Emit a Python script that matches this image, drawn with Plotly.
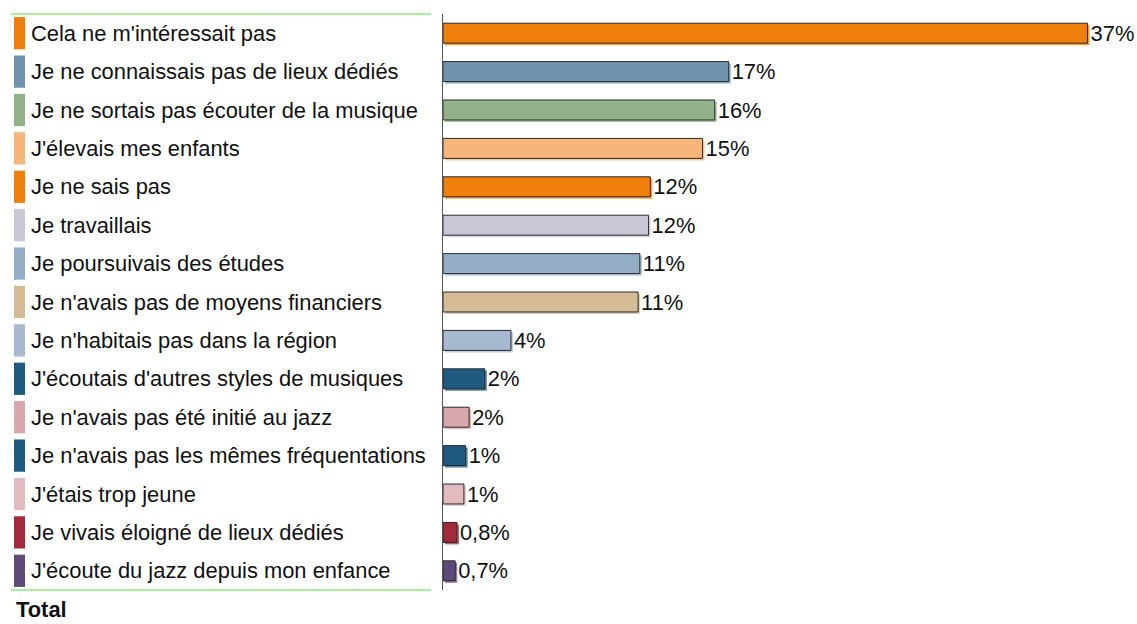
import plotly.graph_objects as go

categories = [
    "Cela ne m'intéressait pas",
    "Je ne connaissais pas de lieux dédiés",
    "Je ne sortais pas écouter de la musique",
    "J'élevais mes enfants",
    "Je ne sais pas",
    "Je travaillais",
    "Je poursuivais des études",
    "Je n'avais pas de moyens financiers",
    "Je n'habitais pas dans la région",
    "J'écoutais d'autres styles de musiques",
    "Je n'avais pas été initié au jazz",
    "Je n'avais pas les mêmes fréquentations",
    "J'étais trop jeune",
    "Je vivais éloigné de lieux dédiés",
    "J'écoute du jazz depuis mon enfance",
]
values = [37.0, 16.4, 15.6, 14.9, 11.9, 11.8, 11.3, 11.2, 3.9, 2.4, 1.5, 1.3, 1.2, 0.8, 0.7]
value_labels = ["37%", "17%", "16%", "15%", "12%", "12%", "11%", "11%", "4%", "2%", "2%", "1%", "1%", "0,8%", "0,7%"]
colors = ["#F0800B", "#7094B0", "#92B38A", "#F6B679", "#F0800B", "#CBC6D5", "#93AEC5",
          "#D5BB96", "#A7B9D0", "#1F5B80", "#D8A8AF", "#1F5B80", "#E2BBC1", "#A3293B", "#5E4A7A"]
footer_label = "Total"

FONT = "Liberation Sans, Arial, sans-serif"
FS = 21.9

# layout geometry (body margin removed via post_script)
W, H = 1137, 624
ML, MR, MT = 443, 0, 14
MB = H - 590
PW = W - ML - MR
PH = H - MT - MB
PX_PER_UNIT = 17.42
XMAX = PW / PX_PER_UNIT
ROW = PH / len(categories)
BAR_W = 0.52
SH_X = 2 / PX_PER_UNIT
SH_Y = 2 / ROW

def px_to_paper_x(px):
    return (px - ML) / PW

fig = go.Figure()

# shadow
fig.add_trace(go.Bar(
    y=categories, x=values, orientation="h",
    base=[SH_X] * len(values),
    width=BAR_W, offset=-BAR_W / 2 + SH_Y,
    marker=dict(color=colors, opacity=0.75, line=dict(width=0)),
    hoverinfo="skip", showlegend=False,
))
# main bars
fig.add_trace(go.Bar(
    y=categories, x=values, orientation="h",
    width=BAR_W, offset=-BAR_W / 2,
    marker=dict(color=colors, line=dict(color="#2a2a2a", width=1)),
    text=value_labels, textposition="outside", constraintext="none",
    textfont=dict(family=FONT, size=FS, color="#111111"),
    cliponaxis=False, showlegend=False,
))

shapes = []
annotations = []
for i, (cat, col) in enumerate(zip(categories, colors)):
    shapes.append(dict(type="rect", xref="paper", yref="y",
                       x0=px_to_paper_x(14), x1=px_to_paper_x(25),
                       y0=i - 0.42, y1=i + 0.42,
                       fillcolor=col, line=dict(width=0), layer="above"))
    annotations.append(dict(xref="paper", yref="y", x=px_to_paper_x(29), y=cat,
                            text=cat, showarrow=False, xanchor="left", yanchor="middle",
                            font=dict(family=FONT, size=FS, color="#111111")))

# green separator lines
for yp in (1, 0):
    shapes.append(dict(type="line", xref="paper", yref="paper",
                       x0=px_to_paper_x(11), x1=px_to_paper_x(431), y0=yp, y1=yp,
                       line=dict(color="#55DD33", width=1)))

annotations.append(dict(xref="paper", yref="paper", x=px_to_paper_x(14),
                        y=-(609 - 590) / PH,
                        text="<b>" + footer_label + "</b>", showarrow=False,
                        xanchor="left", yanchor="middle",
                        font=dict(family=FONT, size=FS, color="#111111")))

fig.update_layout(
    width=W, height=H,
    margin=dict(l=ML, r=MR, t=MT, b=MB, pad=0),
    barmode="overlay",
    plot_bgcolor="white", paper_bgcolor="white",
    xaxis=dict(range=[0, XMAX], visible=False, showgrid=False, zeroline=False),
    yaxis=dict(type="category", categoryorder="array", categoryarray=categories,
               range=[len(categories) - 0.5, -0.5], showticklabels=False, showgrid=False,
               zeroline=False, showline=True, linecolor="#555555", linewidth=1, ticks=""),
    shapes=shapes, annotations=annotations,
)

fig.write_html("out.html",
               config={"displayModeBar": False},
               post_script="document.body.style.margin='0';document.body.style.overflow='hidden';")
